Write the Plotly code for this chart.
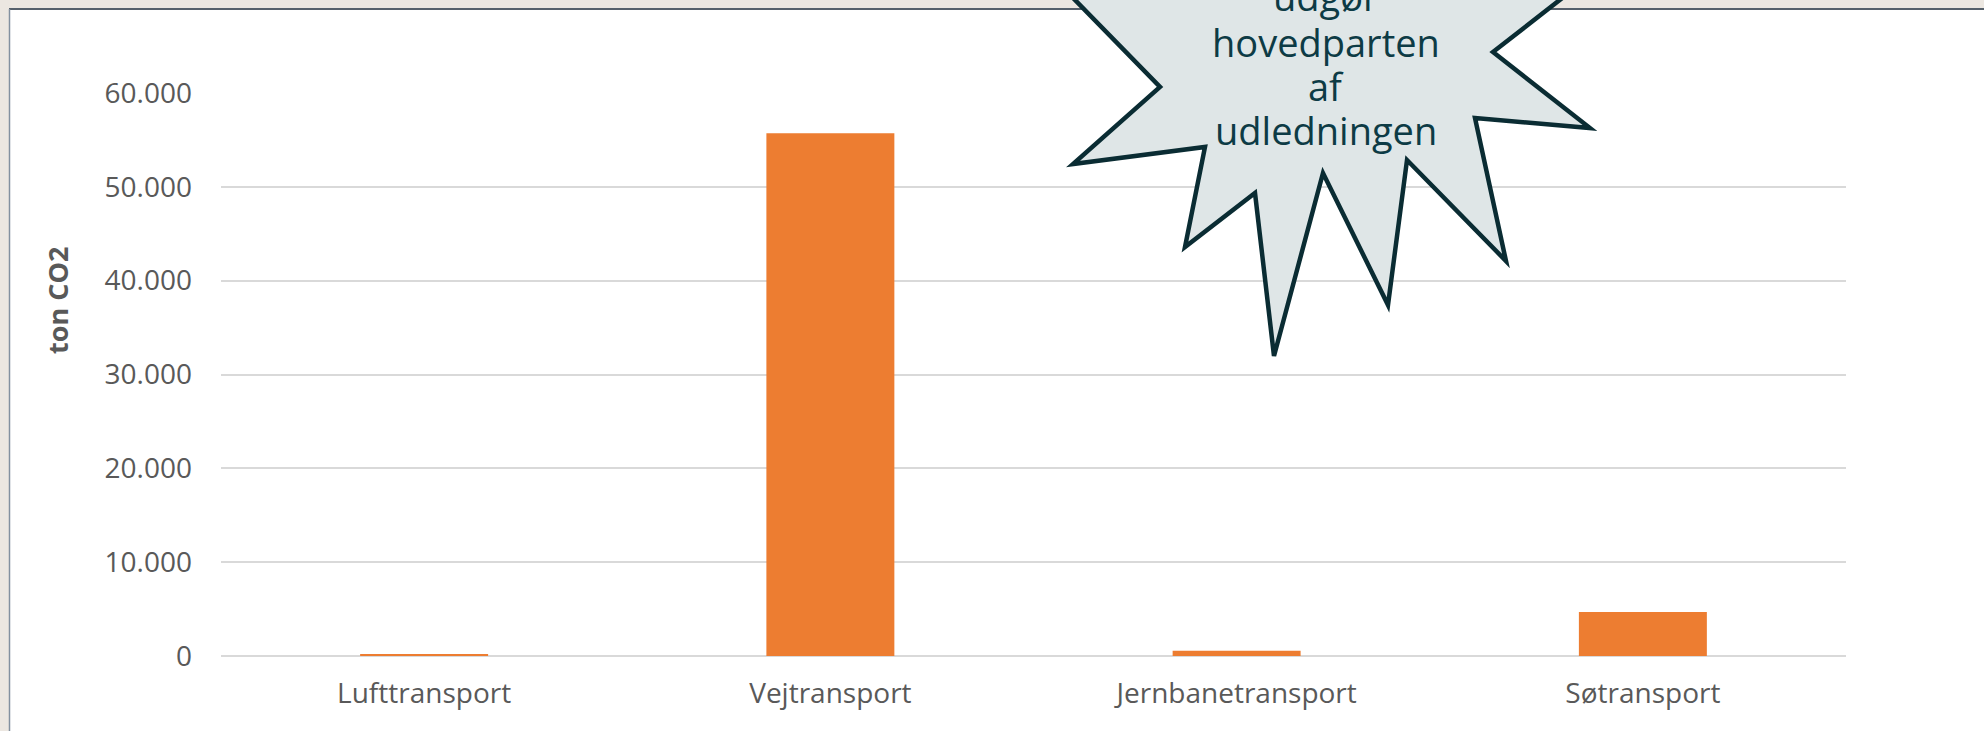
import plotly.graph_objects as go

# ---- data ----
categories = ["Lufttransport", "Vejtransport", "Jernbanetransport", "Søtransport"]
values = [150, 55700, 550, 4700]
y_tickvals = [0, 10000, 20000, 30000, 40000, 50000, 60000]
y_title = "ton CO2"
callout_lines = ["udgør", "hovedparten", "af", "udledningen"]

# ---- layout geometry (pixels) ----
W, H = 1984, 731
L, R, T, B = 221, 138, 93, 75
PW = W - L - R
PH = H - T - B


def xp(px):
    return (px - L) / PW


def yp(py):
    return (H - B - py) / PH


fig = go.Figure(
    go.Bar(
        x=categories,
        y=values,
        marker=dict(color="#ED7D31", line=dict(width=0)),
        hoverinfo="skip",
    )
)

fig.update_layout(
    width=W,
    height=H,
    autosize=False,
    margin=dict(l=L, r=R, t=T, b=B, pad=0),
    paper_bgcolor="#ECE7E1",
    plot_bgcolor="rgba(0,0,0,0)",
    bargap=0.685,
    separators=",.",
    showlegend=False,
    font=dict(family="Open Sans", color="#595959"),
)

fig.update_yaxes(
    range=[0, 60000],
    tickvals=y_tickvals,
    tickformat=",d",
    showgrid=True,
    gridcolor="#D9D9D9",
    gridwidth=1.5,
    zeroline=True,
    zerolinecolor="#D9D9D9",
    zerolinewidth=1.5,
    showline=False,
    ticks="",
    tickfont=dict(family="Open Sans", size=28, color="#595959"),
    ticklabelstandoff=28,
)
fig.update_xaxes(
    showgrid=False,
    showline=False,
    ticks="",
    tickfont=dict(family="Open Sans", size=28, color="#595959"),
    ticklabelstandoff=18,
)

# chart frame (white area with border, beige outside)
fig.add_shape(type="rect", xref="paper", yref="paper",
              x0=xp(9), x1=xp(2100), y0=yp(900), y1=yp(9),
              fillcolor="white", line=dict(width=0), layer="below")
fig.add_shape(type="line", xref="paper", yref="paper",
              x0=xp(9), x1=xp(2100), y0=yp(9), y1=yp(9),
              line=dict(color="#56606B", width=2), layer="below")
fig.add_shape(type="line", xref="paper", yref="paper",
              x0=xp(9.5), x1=xp(9.5), y0=yp(9), y1=yp(900),
              line=dict(color="#8391A0", width=1.5), layer="below")

# callout star
star_px = [(1036, -40), (1160, 87), (1073, 164), (1205, 147), (1185, 247),
           (1255, 193), (1274, 356), (1323, 173), (1388, 305), (1407, 160),
           (1506, 261), (1475, 118), (1590, 128), (1493, 52), (1611, -40)]
path = "M " + " L ".join(f"{xp(a):.5f},{yp(b):.5f}" for a, b in star_px) + " Z"
fig.add_shape(type="path", xref="paper", yref="paper", path=path,
              fillcolor="#DFE6E7", line=dict(color="#0A2C33", width=4.5),
              layer="above")

baselines = [11, 57, 101, 145]
for txt, bl in zip(callout_lines, baselines):
    fig.add_annotation(
        xref="paper", yref="paper", x=xp(1326), y=yp(bl - 14.7),
        text=txt, showarrow=False, xanchor="center", yanchor="middle",
        font=dict(family="Open Sans", size=38, color="#0D3B45"),
    )

# y-axis title
fig.add_annotation(
    xref="paper", yref="paper", x=xp(57), y=yp(301),
    text=y_title, showarrow=False, textangle=-90,
    xanchor="center", yanchor="middle",
    font=dict(family="Open Sans", size=27, color="#595959", weight="bold"),
)

fig.write_html(
    "out.html",
    config={"displayModeBar": False},
    post_script="document.body.style.margin='0';document.body.style.background='#ECE7E1';",
)
